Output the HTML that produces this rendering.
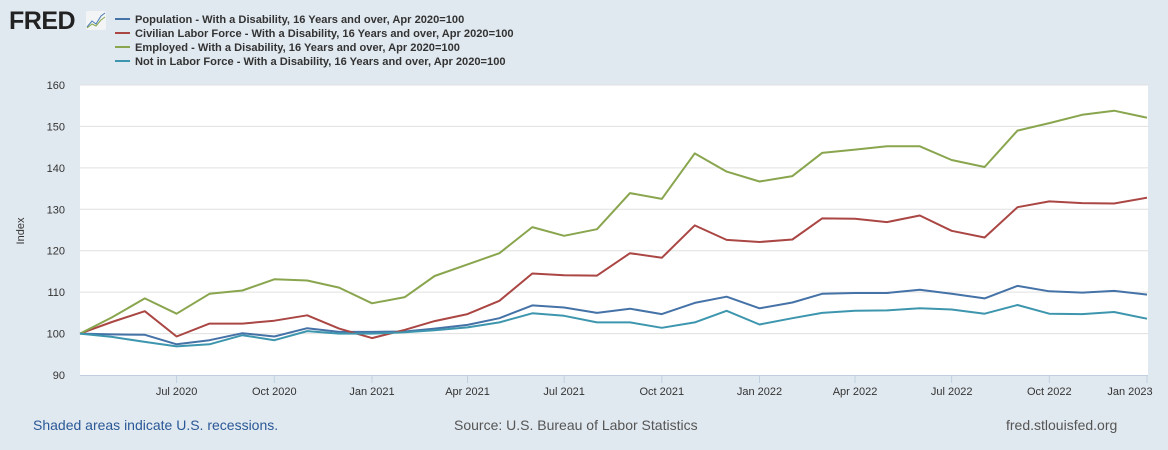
<!DOCTYPE html>
<html><head><meta charset="utf-8">
<style>
body{margin:0;width:1168px;height:450px;background:#e1e9f0;font-family:"Liberation Sans",Arial,sans-serif;overflow:hidden}
svg{display:block}
</style></head><body>
<svg id="chart" width="1168" height="450">
  <g>
    <text x="9" y="29" font-size="25" font-weight="bold" fill="#222" font-family="Liberation Sans,sans-serif" letter-spacing="-0.5">FRED</text>
    <rect x="86" y="11" width="20" height="19" fill="#f2f4f6" rx="2"/>
    <polyline points="87,27 92,21 96,24 101,16 105,13" fill="none" stroke="#4a7bb7" stroke-width="1"/>
    <polyline points="87,28 92,24 96,26 101,20 105,17" fill="none" stroke="#8aa84a" stroke-width="1"/>
  </g>
  <g id="legend"></g>
  <rect x="80" y="85" width="1068" height="291" fill="#fff"/>
  <g id="grid"></g>
  <g id="xaxis"></g>
  <g id="series"></g>
  <text x="0" y="0" transform="translate(24,231) rotate(-90)" font-size="11" fill="#333" text-anchor="middle">Index</text>
  <text x="33" y="430" font-size="14" fill="#2a5896">Shaded areas indicate U.S. recessions.</text>
  <text x="454" y="430" font-size="14" fill="#555">Source: U.S. Bureau of Labor Statistics</text>
  <text x="1006" y="430" font-size="14" fill="#555">fred.stlouisfed.org</text>
</svg>
<script>
const yTicks=[90,100,110,120,130,140,150,160];
const xTickLabels=["Jul 2020","Oct 2020","Jan 2021","Apr 2021","Jul 2021","Oct 2021","Jan 2022","Apr 2022","Jul 2022","Oct 2022","Jan 2023"];
const xTickDates=["2020-07-01","2020-10-01","2021-01-01","2021-04-01","2021-07-01","2021-10-01","2022-01-01","2022-04-01","2022-07-01","2022-10-01","2023-01-01"];
const seriesNames=["Population - With a Disability, 16 Years and over, Apr 2020=100","Civilian Labor Force - With a Disability, 16 Years and over, Apr 2020=100","Employed - With a Disability, 16 Years and over, Apr 2020=100","Not in Labor Force - With a Disability, 16 Years and over, Apr 2020=100"];
const seriesColors=["#4572a7","#aa4643","#89a54e","#3d96ae"];
const population=[100,99.8,99.7,97.4,98.4,100.1,99.3,101.3,100.4,100.4,100.5,101.2,102.1,103.7,106.8,106.3,105,106,104.7,107.4,108.9,106.1,107.5,109.6,109.8,109.8,110.6,109.6,108.5,111.5,110.2,109.9,110.3,109.4];
const laborForce=[100,102.8,105.4,99.3,102.4,102.4,103.1,104.4,101.2,98.9,100.9,103,104.7,107.9,114.5,114.1,114,119.4,118.3,126.1,122.6,122.1,122.7,127.8,127.7,126.9,128.5,124.8,123.2,130.5,131.9,131.5,131.4,132.8];
const employed=[100,103.9,108.5,104.8,109.6,110.4,113.1,112.8,111.1,107.3,108.8,113.9,116.7,119.4,125.7,123.6,125.2,133.9,132.5,143.5,139.1,136.7,138,143.6,144.4,145.2,145.2,141.9,140.2,149,150.8,152.8,153.8,152.1];
const notInLF=[100,99.2,98,96.9,97.4,99.6,98.4,100.6,100,100,100.3,100.8,101.5,102.7,104.9,104.3,102.7,102.7,101.4,102.7,105.5,102.2,103.7,105,105.5,105.6,106.1,105.8,104.8,106.9,104.8,104.7,105.2,103.6];
const startMonth="2020-04-01";

const NS="http://www.w3.org/2000/svg";
const X0=80,X1=1148,Y0=375,Y1=85,VMIN=90,VMAX=160;
const d0=Date.parse("2020-04-01"),d1=Date.parse("2023-01-01");
function xDate(ms){return X0+(ms-d0)/(d1-d0)*(X1-1-X0);}
function monthMs(i){const s=new Date(startMonth);return Date.UTC(s.getUTCFullYear(),s.getUTCMonth()+i,1);}
function y(v){return Y0-(v-VMIN)/(VMAX-VMIN)*(Y0-Y1);}
function mk(t,a,p){const e=document.createElementNS(NS,t);for(const k in a)e.setAttribute(k,a[k]);p.appendChild(e);return e;}

const grid=document.getElementById('grid');
yTicks.forEach(v=>{
  if(v>VMIN){const l=mk('line',{x1:X0,x2:X1,y1:y(v),y2:y(v),stroke:'#e0e0e0','stroke-width':1},grid);
  
  }
  const t=mk('text',{x:65,y:y(v)+4,'font-size':11,fill:'#333','text-anchor':'end'},grid);
  t.textContent=v;
  
  
});
const xa=document.getElementById('xaxis');
const bl=mk('line',{x1:X0,x2:X1,y1:Y0+0.5,y2:Y0+0.5,stroke:'#c0d0e0','stroke-width':1},xa);


xTickLabels.forEach((lab,i)=>{
  const x=xDate(Date.parse(xTickDates[i]));
  mk('line',{x1:x,x2:x,y1:Y0,y2:Y0+8,stroke:'#c0d0e0'},xa);
  const last=i===xTickLabels.length-1;
  const t=mk('text',{x:last?x-17:x,y:Y0+20,'font-size':11,fill:'#333','text-anchor':'middle'},xa);
  t.textContent=lab;
  
  
});
const sg=document.getElementById('series');
const all=[population,laborForce,employed,notInLF];
const names=['population-line','labor-force-line','employed-line','not-in-labor-force-line'];
all.forEach((arr,si)=>{
  const pts=arr.map((v,i)=>xDate(monthMs(i)).toFixed(1)+','+y(v).toFixed(1)).join(' ');
  const p=mk('polyline',{points:pts,fill:'none',stroke:seriesColors[si],'stroke-width':2,'stroke-linejoin':'round'},sg);
  
  
});
const lg=document.getElementById('legend');
seriesNames.forEach((n,i)=>{
  const yy=19+i*14;
  const g=mk('g',{},lg);
  
  
  mk('line',{x1:115,x2:130,y1:yy,y2:yy,stroke:seriesColors[i],'stroke-width':2},g);
  const t=mk('text',{x:135,y:yy+4,'font-size':11.1,'font-weight':'bold',fill:'#333'},g);
  t.textContent=n;
});
</script>
</body></html>
